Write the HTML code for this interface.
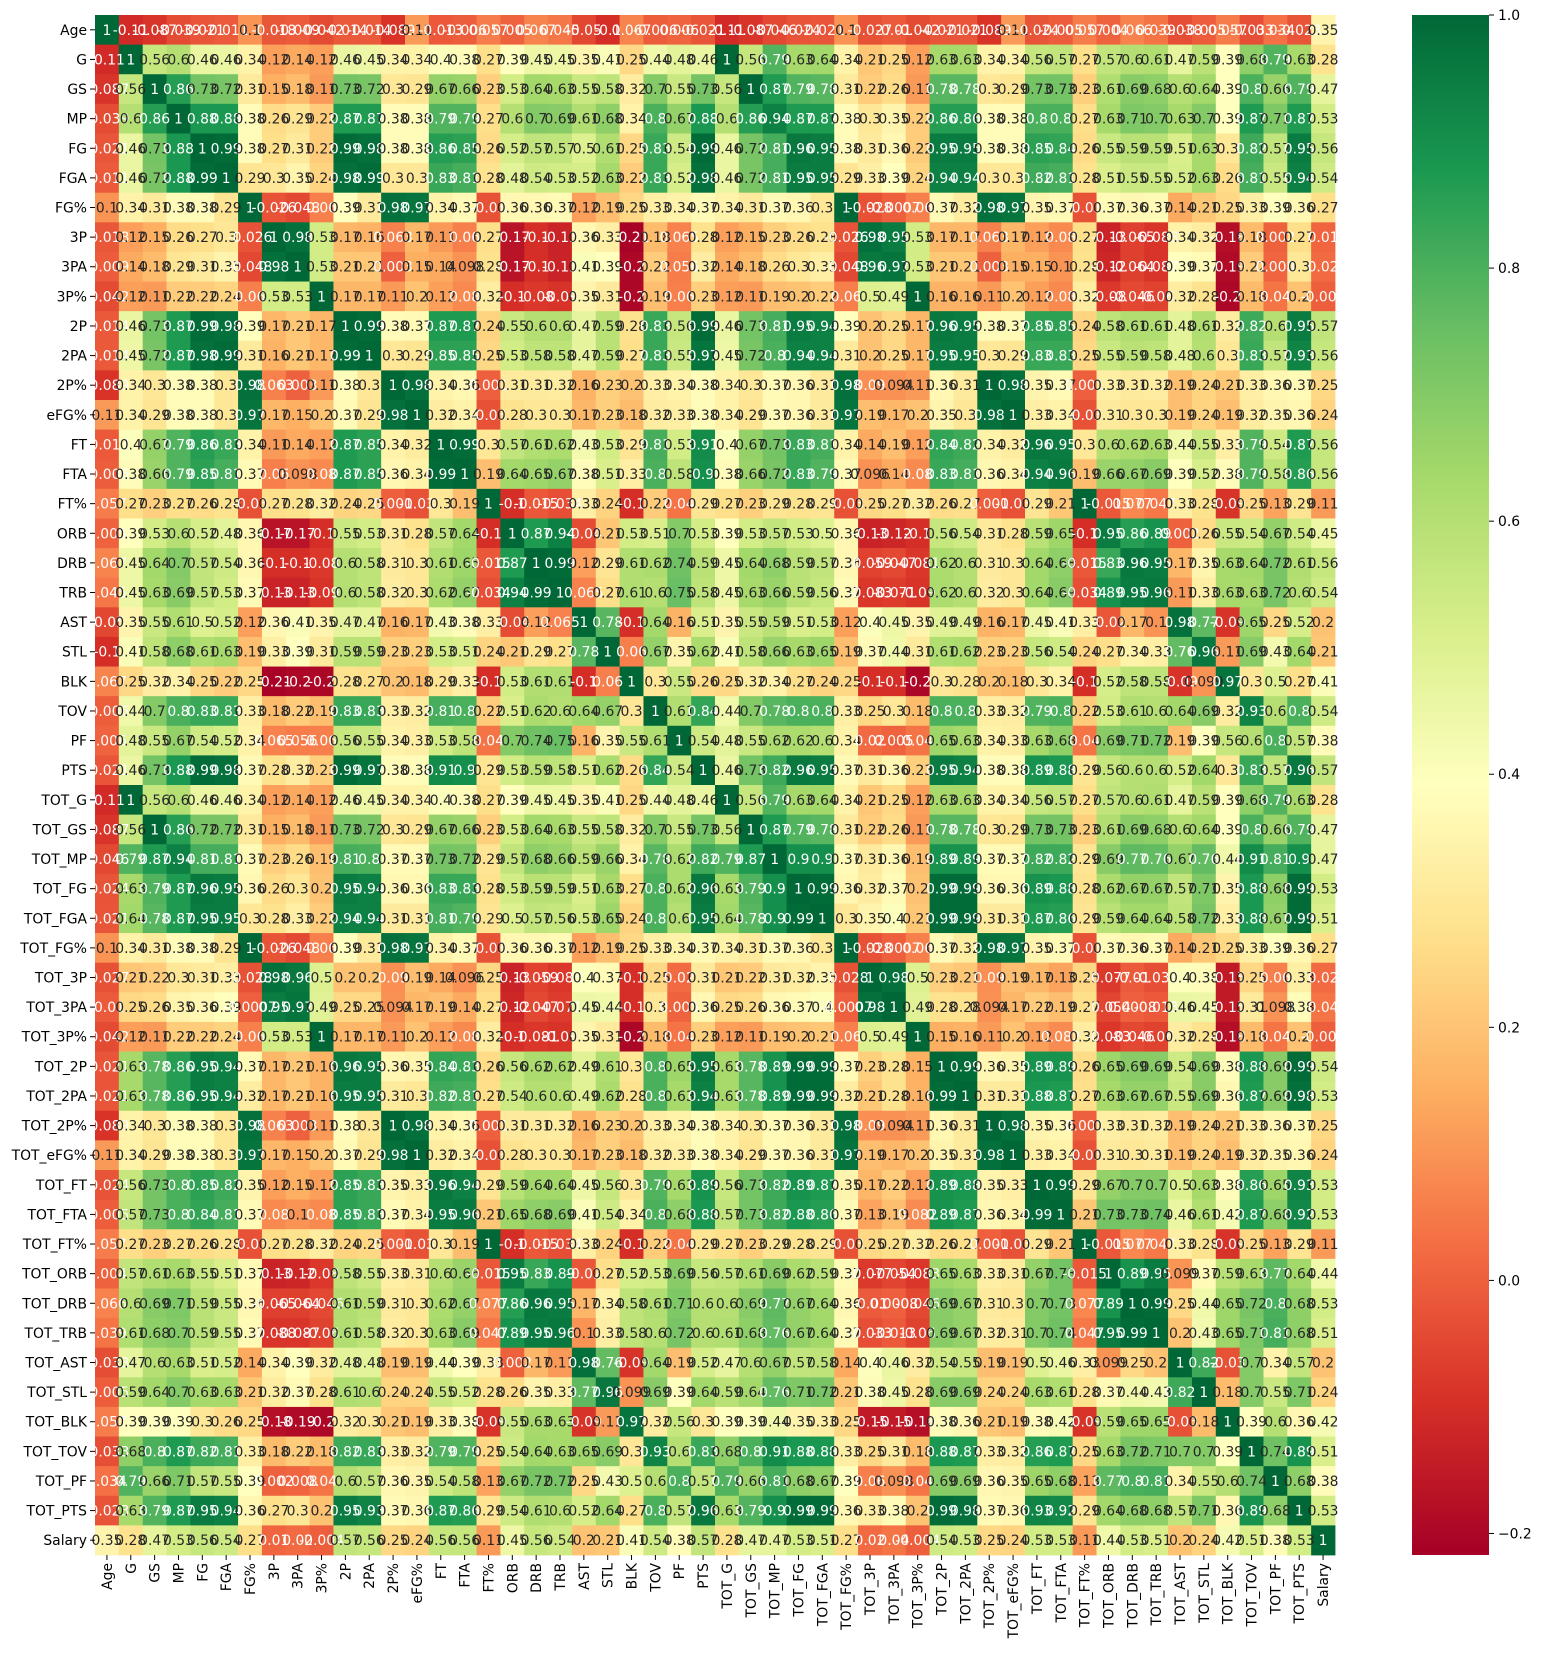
<!DOCTYPE html>
<html><head><meta charset="utf-8"><style>
html,body{margin:0;padding:0;background:#fff;}
svg text{font-family:"DejaVu Sans","Liberation Sans",sans-serif;}
</style></head><body>
<svg id="chart" width="1542" height="1650" xmlns="http://www.w3.org/2000/svg">
<rect width="1542" height="1650" fill="#fff"/>
<defs><linearGradient id="cbgrad" x1="0" y1="1" x2="0" y2="0">
<stop offset="0" stop-color="#a50026"/><stop offset="0.1" stop-color="#d73027"/><stop offset="0.2" stop-color="#f46d43"/><stop offset="0.3" stop-color="#fdae61"/><stop offset="0.4" stop-color="#fee08b"/><stop offset="0.5" stop-color="#ffffbf"/><stop offset="0.6" stop-color="#d9ef8b"/><stop offset="0.7" stop-color="#a6d96a"/><stop offset="0.8" stop-color="#66bd63"/><stop offset="0.9" stop-color="#1a9850"/><stop offset="1" stop-color="#006837"/>
</linearGradient></defs>
<g id="cells"></g>
<g id="annots"></g>
<g id="yaxis"></g>
<g id="xaxis"></g>
<g id="cbar"></g>
</svg>
<script>
const labels = ["Age","G","GS","MP","FG","FGA","FG%","3P","3PA","3P%","2P","2PA","2P%","eFG%","FT","FTA","FT%","ORB","DRB","TRB","AST","STL","BLK","TOV","PF","PTS","TOT_G","TOT_GS","TOT_MP","TOT_FG","TOT_FGA","TOT_FG%","TOT_3P","TOT_3PA","TOT_3P%","TOT_2P","TOT_2PA","TOT_2P%","TOT_eFG%","TOT_FT","TOT_FTA","TOT_FT%","TOT_ORB","TOT_DRB","TOT_TRB","TOT_AST","TOT_STL","TOT_BLK","TOT_TOV","TOT_PF","TOT_PTS","Salary"];
// lower triangle of the correlation matrix (row i has columns 0..i)
const corrRows = [
[1],
[-0.11,1],
[-0.087,0.56,1],
[-0.039,0.6,0.86,1],
[-0.021,0.46,0.73,0.88,1],
[-0.011,0.46,0.72,0.88,0.99,1],
[0.1,0.34,0.31,0.38,0.38,0.29,1],
[-0.018,0.12,0.15,0.26,0.27,0.3,-0.026,1],
[-0.009,0.14,0.18,0.29,0.31,0.35,-0.048,0.98,1],
[-0.042,0.12,0.11,0.22,0.22,0.24,0.06,0.53,0.53,1],
[-0.014,0.46,0.73,0.87,0.99,0.98,0.39,0.17,0.21,0.17,1],
[-0.014,0.45,0.72,0.87,0.98,0.99,0.31,0.16,0.21,0.17,0.99,1],
[-0.089,0.34,0.3,0.38,0.38,0.3,0.98,0.063,0.003,0.11,0.38,0.3,1],
[0.11,0.34,0.29,0.38,0.38,0.3,0.97,0.17,0.15,0.2,0.37,0.29,0.98,1],
[-0.013,0.4,0.67,0.79,0.86,0.83,0.34,0.11,0.14,0.12,0.87,0.85,0.34,0.32,1],
[-0.006,0.38,0.66,0.79,0.85,0.81,0.37,0.06,0.098,0.08,0.87,0.85,0.36,0.34,0.99,1],
[0.057,0.27,0.23,0.27,0.26,0.28,-0.03,0.27,0.28,0.32,0.24,0.25,0.001,-0.03,0.3,0.19,1],
[0.005,0.39,0.53,0.6,0.52,0.48,0.36,-0.17,-0.17,-0.1,0.55,0.53,0.31,0.28,0.57,0.64,-0.1,1],
[0.067,0.45,0.64,0.7,0.57,0.54,0.36,-0.1,-0.1,-0.08,0.6,0.58,0.31,0.3,0.61,0.65,-0.015,0.87,1],
[0.045,0.45,0.63,0.69,0.57,0.53,0.37,-0.13,-0.13,-0.09,0.6,0.58,0.32,0.3,0.62,0.67,-0.034,0.94,0.99,1],
[-0.05,0.35,0.55,0.61,0.5,0.52,0.12,0.36,0.41,0.35,0.47,0.47,0.16,0.17,0.43,0.38,0.33,-0.04,0.12,0.065,1],
[-0.1,0.41,0.58,0.68,0.61,0.63,0.19,0.33,0.39,0.31,0.59,0.59,0.23,0.23,0.53,0.51,0.24,0.21,0.29,0.27,0.78,1],
[0.067,0.25,0.32,0.34,0.25,0.22,0.25,-0.21,-0.2,-0.2,0.28,0.27,0.2,0.18,0.29,0.33,-0.1,0.53,0.61,0.61,-0.1,0.06,1],
[-0.006,0.44,0.7,0.8,0.83,0.83,0.33,0.18,0.22,0.19,0.83,0.83,0.33,0.32,0.81,0.8,0.22,0.51,0.62,0.6,0.64,0.67,0.3,1],
[0.006,0.48,0.55,0.67,0.54,0.52,0.34,0.065,0.056,0.06,0.56,0.55,0.34,0.33,0.53,0.58,0.04,0.7,0.74,0.75,0.16,0.35,0.55,0.61,1],
[-0.021,0.46,0.73,0.88,0.99,0.98,0.37,0.28,0.32,0.23,0.99,0.97,0.38,0.38,0.91,0.9,0.29,0.53,0.59,0.58,0.51,0.62,0.26,0.84,0.54,1],
[-0.11,1,0.56,0.6,0.46,0.46,0.34,0.12,0.14,0.12,0.46,0.45,0.34,0.34,0.4,0.38,0.27,0.39,0.45,0.45,0.35,0.41,0.25,0.44,0.48,0.46,1],
[-0.087,0.56,1,0.86,0.72,0.72,0.31,0.15,0.18,0.11,0.73,0.72,0.3,0.29,0.67,0.66,0.23,0.53,0.64,0.63,0.55,0.58,0.32,0.7,0.55,0.73,0.56,1],
[-0.046,0.79,0.87,0.94,0.81,0.81,0.37,0.23,0.26,0.19,0.81,0.8,0.37,0.37,0.73,0.72,0.29,0.57,0.68,0.66,0.59,0.66,0.34,0.78,0.62,0.82,0.79,0.87,1],
[-0.024,0.63,0.79,0.87,0.96,0.95,0.36,0.26,0.3,0.2,0.95,0.94,0.36,0.36,0.83,0.83,0.28,0.53,0.59,0.59,0.51,0.63,0.27,0.8,0.62,0.96,0.63,0.79,0.9,1],
[-0.021,0.64,0.78,0.87,0.95,0.95,0.3,0.28,0.33,0.22,0.94,0.94,0.31,0.31,0.81,0.79,0.29,0.5,0.57,0.56,0.53,0.65,0.24,0.8,0.6,0.95,0.64,0.78,0.9,0.99,1],
[0.1,0.34,0.31,0.38,0.38,0.29,1,-0.026,-0.048,0.06,0.39,0.31,0.98,0.97,0.34,0.37,-0.03,0.36,0.36,0.37,0.12,0.19,0.25,0.33,0.34,0.37,0.34,0.31,0.37,0.36,0.3,1],
[-0.027,0.21,0.22,0.3,0.31,0.33,-0.028,0.98,0.96,0.5,0.2,0.2,0.09,0.19,0.14,0.096,0.25,-0.13,-0.059,-0.083,0.4,0.37,-0.1,0.25,0.02,0.31,0.21,0.22,0.31,0.32,0.35,-0.028,1],
[-0.01,0.25,0.26,0.35,0.36,0.39,-0.0007,0.95,0.97,0.49,0.25,0.25,0.094,0.17,0.19,0.14,0.27,-0.12,-0.047,-0.071,0.45,0.44,-0.1,0.3,0.005,0.36,0.25,0.26,0.36,0.37,0.4,-0.0007,0.98,1],
[-0.042,0.12,0.11,0.22,0.22,0.24,0.06,0.53,0.53,1,0.17,0.17,0.11,0.2,0.12,0.08,0.32,-0.1,-0.081,-0.09,0.35,0.31,-0.2,0.18,0.04,0.23,0.12,0.11,0.19,0.2,0.21,0.06,0.5,0.49,1],
[-0.021,0.63,0.78,0.86,0.95,0.94,0.37,0.17,0.21,0.16,0.96,0.95,0.36,0.35,0.84,0.83,0.26,0.56,0.62,0.62,0.49,0.61,0.3,0.8,0.65,0.95,0.63,0.78,0.89,0.99,0.99,0.37,0.23,0.28,0.15,1],
[-0.021,0.63,0.78,0.86,0.95,0.94,0.32,0.17,0.21,0.16,0.95,0.95,0.31,0.3,0.82,0.81,0.27,0.54,0.6,0.6,0.49,0.62,0.28,0.8,0.63,0.94,0.63,0.78,0.89,0.99,0.99,0.32,0.21,0.28,0.16,0.99,1],
[-0.089,0.34,0.3,0.38,0.38,0.3,0.98,0.063,0.003,0.11,0.38,0.3,1,0.98,0.34,0.36,0.001,0.31,0.31,0.32,0.16,0.23,0.2,0.33,0.34,0.38,0.34,0.3,0.37,0.36,0.31,0.98,0.09,0.094,0.11,0.36,0.31,1],
[0.11,0.34,0.29,0.38,0.38,0.3,0.97,0.17,0.15,0.2,0.37,0.29,0.98,1,0.32,0.34,-0.03,0.28,0.3,0.3,0.17,0.23,0.18,0.32,0.33,0.38,0.34,0.29,0.37,0.36,0.31,0.97,0.19,0.17,0.2,0.35,0.31,0.98,1],
[-0.024,0.56,0.73,0.8,0.85,0.82,0.35,0.12,0.15,0.12,0.85,0.83,0.35,0.33,0.96,0.94,0.29,0.59,0.64,0.64,0.45,0.56,0.3,0.79,0.63,0.89,0.56,0.73,0.82,0.89,0.87,0.35,0.17,0.22,0.12,0.89,0.88,0.35,0.33,1],
[-0.005,0.57,0.73,0.8,0.84,0.81,0.37,0.08,0.1,0.08,0.85,0.83,0.37,0.34,0.95,0.96,0.21,0.65,0.68,0.69,0.41,0.54,0.34,0.8,0.68,0.88,0.57,0.73,0.82,0.88,0.86,0.37,0.13,0.19,0.082,0.89,0.87,0.36,0.34,0.99,1],
[0.057,0.27,0.23,0.27,0.26,0.28,-0.03,0.27,0.28,0.32,0.24,0.25,0.001,-0.03,0.3,0.19,1,-0.1,-0.015,-0.034,0.33,0.24,-0.1,0.22,0.04,0.29,0.27,0.23,0.29,0.28,0.29,-0.03,0.25,0.27,0.32,0.26,0.27,0.001,-0.03,0.29,0.21,1],
[0.004,0.57,0.61,0.63,0.55,0.51,0.37,-0.13,-0.12,-0.08,0.58,0.55,0.33,0.31,0.6,0.66,-0.015,0.95,0.83,0.89,-0.02,0.27,0.52,0.53,0.69,0.56,0.57,0.61,0.69,0.62,0.59,0.37,-0.077,-0.054,-0.083,0.65,0.63,0.33,0.31,0.67,0.73,-0.015,1],
[0.066,0.6,0.69,0.71,0.59,0.55,0.36,-0.065,-0.064,-0.046,0.61,0.59,0.31,0.3,0.62,0.67,0.077,0.86,0.96,0.95,0.17,0.34,0.58,0.61,0.71,0.6,0.6,0.69,0.77,0.67,0.64,0.36,-0.01,0.0008,-0.046,0.69,0.67,0.31,0.3,0.7,0.73,0.077,0.89,1],
[0.039,0.61,0.68,0.7,0.59,0.55,0.37,-0.088,-0.087,-0.06,0.61,0.58,0.32,0.3,0.63,0.69,0.047,0.89,0.95,0.96,0.1,0.33,0.58,0.6,0.72,0.6,0.61,0.68,0.76,0.67,0.64,0.37,-0.033,-0.013,-0.06,0.69,0.67,0.32,0.31,0.7,0.74,0.047,0.95,0.99,1],
[-0.038,0.47,0.6,0.63,0.51,0.52,0.14,0.34,0.39,0.32,0.48,0.48,0.19,0.19,0.44,0.39,0.33,0.002,0.17,0.11,0.98,0.76,-0.09,0.64,0.19,0.52,0.47,0.6,0.67,0.57,0.58,0.14,0.4,0.46,0.32,0.54,0.55,0.19,0.19,0.5,0.46,0.33,0.099,0.25,0.2,1],
[-0.005,0.59,0.64,0.7,0.63,0.63,0.21,0.32,0.37,0.28,0.61,0.6,0.24,0.24,0.55,0.52,0.28,0.26,0.35,0.33,0.77,0.96,0.099,0.69,0.39,0.64,0.59,0.64,0.76,0.71,0.72,0.21,0.38,0.45,0.28,0.69,0.69,0.24,0.24,0.63,0.61,0.28,0.37,0.44,0.43,0.82,1],
[0.057,0.39,0.39,0.39,0.3,0.26,0.25,-0.18,-0.19,-0.2,0.32,0.3,0.21,0.19,0.33,0.38,-0.09,0.55,0.63,0.63,-0.09,0.11,0.97,0.32,0.56,0.3,0.39,0.39,0.44,0.35,0.33,0.25,-0.15,-0.15,-0.18,0.38,0.36,0.21,0.19,0.38,0.42,-0.09,0.59,0.65,0.65,-0.03,0.18,1],
[-0.033,0.68,0.8,0.87,0.82,0.81,0.33,0.18,0.22,0.18,0.82,0.83,0.33,0.32,0.79,0.79,0.25,0.54,0.64,0.63,0.65,0.69,0.3,0.93,0.6,0.83,0.68,0.8,0.91,0.88,0.88,0.33,0.25,0.31,0.18,0.88,0.87,0.33,0.32,0.86,0.87,0.25,0.63,0.72,0.71,0.7,0.7,0.39,1],
[0.034,0.79,0.66,0.71,0.57,0.55,0.39,0.002,0.008,0.04,0.6,0.57,0.36,0.35,0.54,0.58,0.13,0.67,0.72,0.72,0.25,0.43,0.5,0.6,0.8,0.57,0.79,0.66,0.81,0.68,0.67,0.39,0.06,0.098,0.04,0.69,0.69,0.36,0.35,0.65,0.68,0.13,0.77,0.8,0.81,0.34,0.55,0.6,0.74,1],
[-0.023,0.63,0.79,0.87,0.95,0.94,0.36,0.27,0.3,0.2,0.95,0.93,0.37,0.36,0.87,0.86,0.29,0.54,0.61,0.6,0.52,0.64,0.27,0.8,0.57,0.96,0.63,0.79,0.9,0.99,0.99,0.36,0.33,0.38,0.2,0.99,0.98,0.37,0.36,0.93,0.92,0.29,0.64,0.68,0.68,0.57,0.71,0.36,0.89,0.68,1],
[0.35,0.28,0.47,0.53,0.56,0.54,0.27,0.01,0.02,-0.004,0.57,0.56,0.25,0.24,0.56,0.56,0.11,0.45,0.56,0.54,0.2,0.21,0.41,0.54,0.38,0.57,0.28,0.47,0.47,0.53,0.51,0.27,0.02,0.04,-0.004,0.54,0.53,0.25,0.24,0.53,0.53,0.11,0.44,0.53,0.51,0.2,0.24,0.42,0.51,0.38,0.53,1]
];
const cbarTicks = [1.0, 0.8, 0.6, 0.4, 0.2, 0.0, -0.2];
const cbarTickLabels = ["1.0","0.8","0.6","0.4","0.2","0.0","\u22120.2"];
const vmin = -0.217, vmax = 1.0;

const NS = "http://www.w3.org/2000/svg";
const X0 = 95, Y0 = 15, X1 = 1335, Y1 = 1555;
const n = labels.length;
const cw = (X1 - X0) / n, ch = (Y1 - Y0) / n;
const xPos = i => X0 + i * cw;
const yPos = i => Y0 + i * ch;
const cbTop = 15, cbBot = 1555, cbL = 1412, cbR = 1489;
const cbY = v => cbBot - (v - vmin) / (vmax - vmin) * (cbBot - cbTop);

const stops = ["#a50026","#d73027","#f46d43","#fdae61","#fee08b","#ffffbf","#d9ef8b","#a6d96a","#66bd63","#1a9850","#006837"].map(h=>[parseInt(h.slice(1,3),16),parseInt(h.slice(3,5),16),parseInt(h.slice(5,7),16)]);
function cmap(v){
  let t = (v - vmin) / (vmax - vmin); t = Math.max(0, Math.min(1, t));
  const p = t * 10, k = Math.min(9, Math.floor(p)), f = p - k;
  return stops[k].map((c,i)=>Math.round(c + (stops[k+1][i]-c)*f));
}
function lum(rgb){
  const c = rgb.map(x=>{x/=255;return x<=0.03928?x/12.92:Math.pow((x+0.055)/1.055,2.4);});
  return 0.2126*c[0]+0.7152*c[1]+0.0722*c[2];
}
function fmt(v){
  if (v === 1) return "1";
  return String(Number(v.toPrecision(2)));
}
function val(i,j){ return i>=j ? corrRows[i][j] : corrRows[j][i]; }

const gCells = document.getElementById("cells");
const gAnn = document.getElementById("annots");
for (let i=0;i<n;i++){
  for (let j=0;j<n;j++){
    const v = val(i,j);
    const rgb = cmap(v);
    const r = document.createElementNS(NS,"rect");
    r.setAttribute("x", xPos(j)); r.setAttribute("y", yPos(i));
    r.setAttribute("width", cw+0.4); r.setAttribute("height", ch+0.4);
    r.setAttribute("fill", `rgb(${rgb[0]},${rgb[1]},${rgb[2]})`);
    
    
    gCells.appendChild(r);
    const t = document.createElementNS(NS,"text");
    t.setAttribute("x", xPos(j)+cw/2); t.setAttribute("y", yPos(i)+ch/2+5);
    t.setAttribute("text-anchor","middle"); t.setAttribute("font-size","13.9");
    t.setAttribute("fill", lum(rgb) > 0.408 ? "#262626" : "#ffffff");
    t.textContent = fmt(v);
    
    
    gAnn.appendChild(t);
  }
}
const gY = document.getElementById("yaxis"), gX = document.getElementById("xaxis");
for (let i=0;i<n;i++){
  const yc = yPos(i)+ch/2;
  const tk = document.createElementNS(NS,"line");
  tk.setAttribute("x1",X0-5);tk.setAttribute("x2",X0);tk.setAttribute("y1",yc);tk.setAttribute("y2",yc);
  tk.setAttribute("stroke","#000");tk.setAttribute("stroke-width","1");
  
  
  gY.appendChild(tk);
  const lb = document.createElementNS(NS,"text");
  lb.setAttribute("x",X0-8);lb.setAttribute("y",yc+5);lb.setAttribute("text-anchor","end");lb.setAttribute("font-size","13.9");
  lb.textContent = labels[i];
  
  
  gY.appendChild(lb);
  const xc = xPos(i)+cw/2;
  const tx = document.createElementNS(NS,"line");
  tx.setAttribute("x1",xc);tx.setAttribute("x2",xc);tx.setAttribute("y1",Y1);tx.setAttribute("y2",Y1+5);
  tx.setAttribute("stroke","#000");tx.setAttribute("stroke-width","1");
  
  
  gX.appendChild(tx);
  const lx = document.createElementNS(NS,"text");
  lx.setAttribute("transform",`translate(${xc+5},${Y1+8}) rotate(-90)`);
  lx.setAttribute("text-anchor","end");lx.setAttribute("font-size","13.9");
  lx.textContent = labels[i];
  
  
  gX.appendChild(lx);
}
const gC = document.getElementById("cbar");
const cb = document.createElementNS(NS,"rect");
cb.setAttribute("x",cbL);cb.setAttribute("y",cbTop);cb.setAttribute("width",cbR-cbL);cb.setAttribute("height",cbBot-cbTop);
cb.setAttribute("fill","url(#cbgrad)");


gC.appendChild(cb);
cbarTicks.forEach((v,k)=>{
  const y = cbY(v);
  const l = document.createElementNS(NS,"line");
  l.setAttribute("x1",cbR);l.setAttribute("x2",cbR+5);l.setAttribute("y1",y);l.setAttribute("y2",y);
  l.setAttribute("stroke","#000");
  
  
  gC.appendChild(l);
  const t = document.createElementNS(NS,"text");
  t.setAttribute("x",cbR+9);t.setAttribute("y",y+5);t.setAttribute("font-size","13.9");
  t.textContent = cbarTickLabels[k];
  
  
  gC.appendChild(t);
});
</script>
</body></html>
